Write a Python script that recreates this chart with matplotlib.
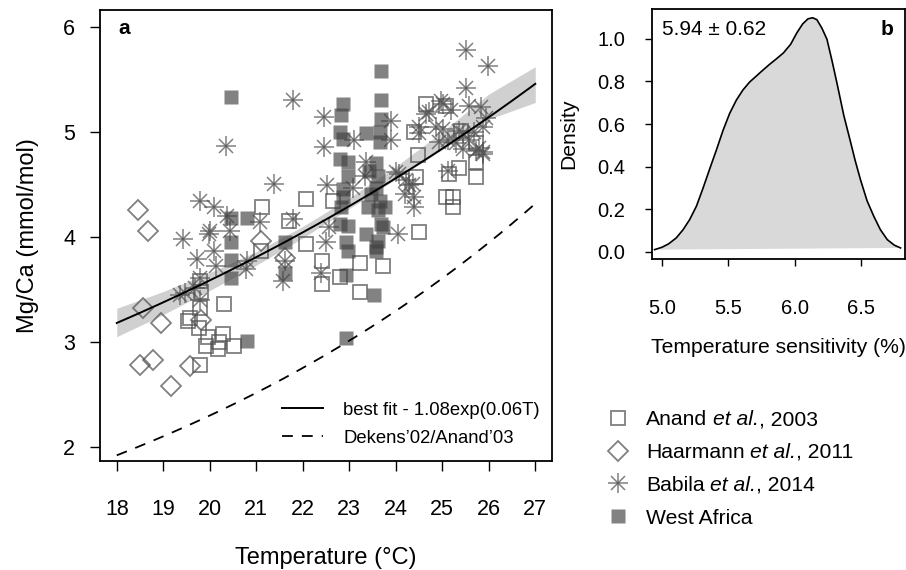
import numpy as np
import matplotlib
matplotlib.use("Agg")
import matplotlib.pyplot as plt
from matplotlib.lines import Line2D
from matplotlib.transforms import IdentityTransform

plt.rcParams['font.family'] = ['Liberation Sans', 'DejaVu Sans']

# Mg/Ca vs temperature, core-top compilations
anand_T = [21.13, 21.70, 21.10, 20.30, 19.78, 19.82, 19.78, 19.57, 19.53, 19.77, 20.28, 19.96,
           20.20, 20.18, 20.53, 19.91, 19.80, 22.07, 22.65, 22.07, 22.42, 22.42, 22.79, 23.22,
           23.72, 23.22, 24.51, 25.22, 24.65, 25.08, 24.40, 24.47, 25.37, 25.73, 25.73, 25.73,
           25.15, 24.44, 25.08, 25.22, 25.40]
anand_M = [4.28, 4.15, 3.87, 3.36, 3.32, 3.48, 3.58, 3.23, 3.20, 3.13, 3.08, 3.05,
           3.00, 2.93, 2.96, 2.96, 2.78, 4.36, 4.34, 3.93, 3.77, 3.55, 3.62, 3.75,
           3.72, 3.48, 4.05, 4.28, 5.27, 5.25, 5.00, 4.78, 4.66, 4.57, 4.71, 4.89,
           4.60, 4.57, 4.38, 4.38, 5.01]

haarmann_T = [18.46, 18.67, 18.56, 18.96, 18.49, 18.78, 19.17, 19.57, 19.82, 21.11, 21.61]
haarmann_M = [4.26, 4.06, 3.32, 3.18, 2.78, 2.83, 2.58, 2.77, 3.21, 3.96, 3.80]

babila_T = [21.80, 20.34, 22.45, 22.45, 21.39, 22.52, 19.78, 20.10, 20.36, 21.07, 21.80, 22.56,
            19.42, 20.00, 20.43, 19.98, 20.10, 19.73, 20.14, 20.79, 20.77, 19.46, 19.68, 19.78,
            21.61, 21.57, 19.78, 19.35, 23.11, 23.90, 23.90, 23.36, 23.33, 23.07, 24.00, 24.19,
            24.04, 22.50, 22.40, 25.51, 25.98, 25.51, 25.12, 24.08, 24.40, 24.65, 25.01, 25.19,
            25.58, 25.83, 24.51, 24.87, 25.44, 25.69, 25.94, 25.72, 25.87, 25.30, 24.94, 24.22,
            24.29, 24.40, 24.72, 24.97, 25.01, 25.37, 25.87, 24.51, 25.12, 25.58, 25.44, 25.80,
            25.87, 24.36]
babila_M = [5.30, 4.87, 5.14, 4.86, 4.50, 4.49, 4.34, 4.28, 4.20, 4.14, 4.17, 4.09,
            3.98, 4.06, 4.06, 4.03, 3.87, 3.79, 3.72, 3.77, 3.69, 3.47, 3.51, 3.61,
            3.77, 3.58, 3.40, 3.45, 4.92, 5.10, 4.92, 4.71, 4.58, 4.47, 4.62, 4.41,
            4.03, 3.95, 3.66, 5.78, 5.63, 5.42, 4.63, 4.60, 4.28, 5.17, 5.27, 5.21,
            5.25, 5.24, 5.05, 5.05, 4.99, 5.00, 5.13, 4.82, 4.81, 4.89, 4.90, 4.54,
            4.49, 4.38, 5.19, 5.29, 5.03, 5.01, 5.05, 4.99, 4.92, 4.92, 4.84, 4.85,
            4.79, 4.50]

wafrica_T = [20.45, 20.79, 20.79, 20.46, 20.45, 20.45, 20.45, 21.61, 21.61,
             23.68, 23.68, 23.68, 23.65, 23.65, 23.58, 23.62, 23.58, 23.65, 23.62, 23.68,
             23.62, 23.58, 23.54, 23.36, 23.36, 23.43, 23.47, 23.40, 23.58, 23.72, 23.77,
             22.86, 22.83, 22.79, 22.86, 22.79, 22.97, 22.97, 22.86, 22.86, 22.83, 22.79,
             22.97, 22.93, 22.97, 22.93, 22.93]
wafrica_M = [5.33, 3.01, 4.18, 4.18, 3.95, 3.78, 3.61, 3.95, 3.66,
             5.58, 5.30, 5.12, 5.00, 4.90, 4.70, 4.58, 4.47, 4.34, 4.26, 4.12,
             3.96, 3.87, 3.45, 4.03, 4.99, 4.63, 4.41, 4.28, 3.90, 4.09, 4.28,
             5.27, 5.16, 5.00, 4.93, 4.74, 4.71, 4.58, 4.46, 4.38, 4.28, 4.12,
             4.10, 3.95, 3.87, 3.64, 3.04]

# exponential calibrations: Mg/Ca = A exp(B T)
fit_A, fit_B = 1.08, 0.06
dekens_A, dekens_B = 0.38, 0.09

# 95% band around best fit (lower / upper)
band_T = [18, 19, 20, 21, 22, 23, 24, 25, 26, 27]
band_lo = [3.05, 3.26, 3.49, 3.73, 3.99, 4.27, 4.55, 4.83, 5.12, 5.28]
band_hi = [3.32, 3.48, 3.66, 3.86, 4.10, 4.37, 4.67, 5.00, 5.36, 5.62]

# kernel density of temperature sensitivity (%)
sens_x = [4.945, 5.00, 5.05, 5.108, 5.16, 5.209, 5.26, 5.31, 5.36, 5.41, 5.46, 5.51,
          5.56, 5.61, 5.66, 5.71, 5.76, 5.81, 5.86, 5.915, 5.97, 6.016, 6.06, 6.10,
          6.135, 6.167, 6.205, 6.243, 6.28, 6.318, 6.37, 6.419, 6.455, 6.495, 6.545,
          6.596, 6.645, 6.697, 6.75, 6.797]
sens_d = [0.011, 0.022, 0.038, 0.066, 0.105, 0.152, 0.215, 0.300, 0.390, 0.478, 0.570,
          0.650, 0.712, 0.760, 0.797, 0.825, 0.853, 0.880, 0.905, 0.934, 0.975, 1.028,
          1.070, 1.094, 1.099, 1.090, 1.050, 0.998, 0.900, 0.793, 0.640, 0.520, 0.430,
          0.340, 0.240, 0.167, 0.105, 0.058, 0.032, 0.019]

# legend labels split into (plain, italic, plain) pieces
study_labels = [('Anand', 'et al.', ', 2003'),
                ('Haarmann', 'et al.', ', 2011'),
                ('Babila', 'et al.', ', 2014'),
                ('West Africa', '', '')]

fig = plt.figure(figsize=(9.06, 5.70), dpi=100)
ax = fig.add_axes([0.1104, 0.1912, 0.4989, 0.7912])
axb = fig.add_axes([0.7196, 0.5456, 0.2792, 0.4386])

gray = '#555555'
ms_sq = 9.5
leg_fs = 15.2

def asterisk(axis, x, y, **kw):
    axis.plot(x, y, ls='none', marker='+', ms=14, mew=1.1, color=gray, alpha=0.75, **kw)
    axis.plot(x, y, ls='none', marker='x', ms=10.5, mew=1.1, color=gray, alpha=0.75, **kw)

ax.fill_between(band_T, band_lo, band_hi, color='#d0d0d0', lw=0, zorder=1)

ax.plot(anand_T, anand_M, ls='none', marker='s', ms=ms_sq, mfc='none', mec=gray,
        mew=1.3, alpha=0.75, zorder=2)
ax.plot(haarmann_T, haarmann_M, ls='none', marker='D', ms=10, mfc='none', mec=gray,
        mew=1.3, alpha=0.75, zorder=2)
asterisk(ax, babila_T, babila_M, zorder=2)
ax.plot(wafrica_T, wafrica_M, ls='none', marker='s', ms=ms_sq, mfc='#404040', mec='none',
        alpha=0.65, zorder=2)

tt = np.linspace(18, 27, 200)
ax.plot(tt, fit_A * np.exp(fit_B * tt), color='black', lw=1.4, zorder=3,
        label='best fit - 1.08exp(0.06T)')
ax.plot(tt, dekens_A * np.exp(dekens_B * tt), color='black', lw=1.3, ls=(0, (6, 5)),
        zorder=3, label='Dekens\u201902/Anand\u201903')

ax.set_xlim(17.64, 27.36)
ax.set_ylim(1.866, 6.16)
ax.set_xticks(range(18, 28))
ax.set_yticks([2, 3, 4, 5, 6])
ax.tick_params(direction='out', length=7, width=1, labelsize=15.5)
ax.tick_params(axis='x', pad=20)
ax.tick_params(axis='y', pad=11)
for s in ax.spines.values():
    s.set_linewidth(1.3)
ax.set_xlabel('Temperature (\u00b0C)', fontsize=17, labelpad=20)
ax.set_ylabel('Mg/Ca (mmol/mol)', fontsize=17, labelpad=17)
ax.text(0.04, 0.96, 'a', transform=ax.transAxes, fontsize=15, fontweight='bold',
        va='center', ha='left')
ax.legend(loc='lower right', bbox_to_anchor=(1.01, -0.005), frameon=False, fontsize=13.3,
          handlelength=2.2, handletextpad=1.1, labelspacing=0.6)

# study legend, outside the panels
handles = [
    Line2D([], [], ls='none', marker='s', ms=ms_sq, mfc='none', mec=gray, mew=1.3, alpha=0.75),
    Line2D([], [], ls='none', marker='D', ms=10, mfc='none', mec=gray, mew=1.3, alpha=0.75),
    (Line2D([], [], ls='none', marker='+', ms=14, mew=1.1, color=gray, alpha=0.75),
     Line2D([], [], ls='none', marker='x', ms=10.5, mew=1.1, color=gray, alpha=0.75)),
    Line2D([], [], ls='none', marker='s', ms=ms_sq, mfc='#404040', mec='none', alpha=0.65),
]
leg = fig.legend(handles, [' '.join(p for p in parts if p).replace(' ,', ',')
                           for parts in study_labels],
                 loc='upper left', bbox_to_anchor=(0.643, 0.314), frameon=False,
                 fontsize=leg_fs, handletextpad=0.5, labelspacing=0.66, handlelength=1.6)

# panel b: sensitivity density
axb.fill(sens_x, sens_d, color='#d9d9d9', lw=0)
axb.plot(sens_x, sens_d, color='black', lw=1.2)
axb.set_xlim(4.925, 6.83)
axb.set_ylim(-0.033, 1.14)
axb.set_xticks([5.0, 5.5, 6.0, 6.5])
axb.set_yticks([0.0, 0.2, 0.4, 0.6, 0.8, 1.0])
axb.set_xticklabels(['5.0', '5.5', '6.0', '6.5'])
axb.set_yticklabels(['0.0', '0.2', '0.4', '0.6', '0.8', '1.0'])
axb.tick_params(direction='out', length=5, width=1, labelsize=14.5)
axb.tick_params(axis='x', pad=24)
axb.tick_params(axis='y', pad=14)
for s in axb.spines.values():
    s.set_linewidth(1.3)
axb.set_xlabel('Temperature sensitivity (%)', fontsize=15.2, labelpad=14)
axb.set_ylabel('Density', fontsize=15.2, labelpad=14)
axb.text(0.04, 0.92, '5.94 \u00b1 0.62', transform=axb.transAxes, fontsize=15,
         va='center', ha='left')
axb.text(0.93, 0.92, 'b', transform=axb.transAxes, fontsize=15, fontweight='bold',
         va='center', ha='center')

# redraw legend labels piece by piece so "et al." can be italic
fig.canvas.draw()
renderer = fig.canvas.get_renderer()
probe = fig.text(0, 0, 'x x', fontsize=leg_fs)
space_w = probe.get_window_extent(renderer).width
probe.set_text('xx')
space_w -= probe.get_window_extent(renderer).width
probe.remove()

for txt, pieces in zip(leg.get_texts(), study_labels):
    bb = txt.get_window_extent(renderer)
    txt.set_visible(False)
    x = bb.x0
    for i, (piece, style) in enumerate(zip(pieces, ('normal', 'italic', 'normal'))):
        if not piece:
            continue
        t = fig.text(x, bb.y0, piece, transform=IdentityTransform(), fontsize=leg_fs,
                     fontstyle=style, ha='left', va='bottom')
        x += t.get_window_extent(renderer).width
        if i == 0:
            x += space_w

fig.savefig('out.png', dpi=100)
